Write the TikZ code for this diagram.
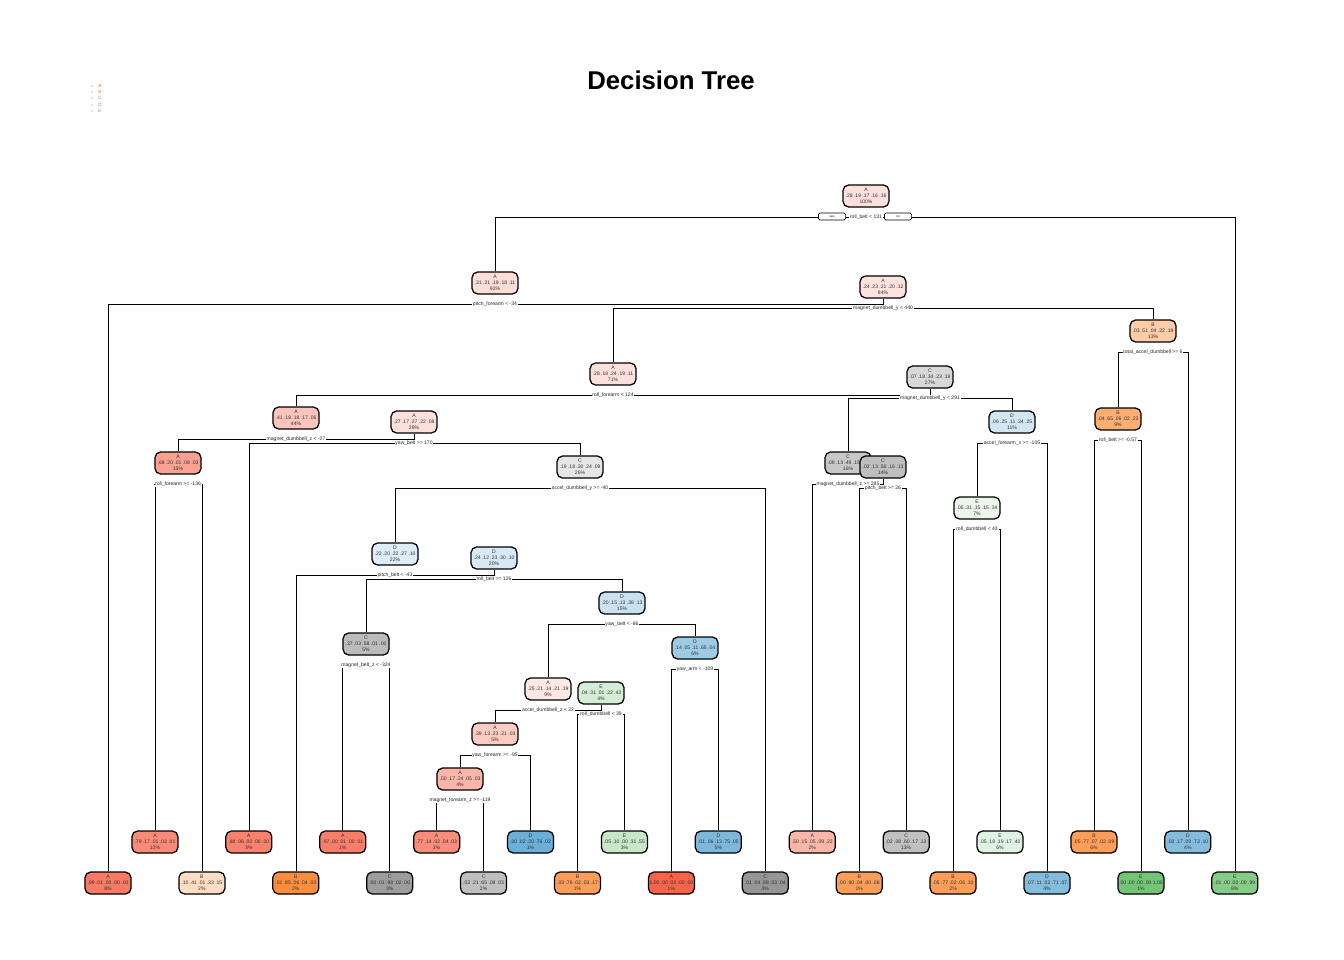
\documentclass[tikz,border=0pt]{standalone}
\usepackage{fontspec}
\setmainfont{Liberation Sans}
\usetikzlibrary{backgrounds}
\definecolor{cA}{HTML}{F6634A}
\definecolor{cB}{HTML}{FD8D3C}
\definecolor{cC}{HTML}{969696}
\definecolor{cD}{HTML}{6BAED6}
\definecolor{cE}{HTML}{74C476}
\begin{document}
\begin{tikzpicture}[
	x=0.025cm, y=-0.025cm,
	font=\fontsize{3.6}{4.3}\selectfont,
	box/.style={draw, line width=0.9pt, rounded corners=4pt, minimum width=1.15cm, minimum height=0.55cm, inner sep=0.5pt, align=center, text=black!80},
	split/.style={fill=white, inner sep=0.4pt, text=black!85},
	tag/.style={draw, line width=0.5pt, rounded corners=1pt, fill=white, minimum width=0.68cm, minimum height=0.17cm, inner sep=0pt, font=\fontsize{2.2}{2.4}\selectfont},
	edge/.style={line width=0.7pt},
	]
\useasboundingbox (0,0) rectangle (1344,960);
\node [font=\fontsize{18.3}{22}\selectfont\bfseries] (title) at (671,80) {Decision Tree};
% legend
\foreach \k/\yy in {A/86,B/92,C/98,D/105,E/111} {
	\fill [c\k!80!black] (92,\yy) circle [radius=0.45pt];
	\node [font=\fontsize{3.3}{3.5}\selectfont, text=c\k!85!black, inner sep=0pt] at (100,\yy) {\k};
}
% inner nodes
\node [box, fill=cA!20] (n1) at (866,196) {A\\.28 .19 .17 .16 .16\\100\%};
\node [box, fill=cA!22] (n2) at (495,283) {A\\.31 .21 .19 .18 .11\\92\%};
\node [box, fill=cA!18] (n5) at (883,287) {A\\.24 .23 .21 .20 .12\\84\%};
\node [box, fill=cA!20] (n10) at (613,374) {A\\.28 .18 .24 .19 .11\\71\%};
\node [box, fill=cB!45] (n11) at (1153,331) {B\\.03 .51 .04 .22 .19\\13\%};
\node [box, fill=cB!72] (n22) at (1118,419) {B\\.04 .65 .06 .02 .23\\9\%};
\node [box, fill=cA!37] (n20) at (296,418) {A\\.41 .18 .18 .17 .06\\44\%};
\node [box, fill=cC!37] (n21) at (930,377) {C\\.07 .18 .34 .23 .18\\27\%};
\node [box, fill=cA!60] (n40) at (178,463) {A\\.68 .20 .01 .08 .03\\15\%};
\node [box, fill=cA!20] (n41) at (414,422) {A\\.27 .17 .27 .22 .08\\29\%};
\node [box, fill=cC!52] (n42) at (848,463) {C\\.09 .13 .49 .15 .14\\16\%};
\node [box, fill=cD!30] (n43) at (1012,422) {D\\.06 .25 .11 .34 .25\\11\%};
\node [box, fill=cC!24] (n83) at (580,467) {C\\.19 .18 .30 .24 .09\\26\%};
\node [box, fill=cC!62] (n85) at (883,467) {C\\.02 .13 .56 .16 .13\\14\%};
\node [box, fill=cE!16] (n86) at (977,508) {E\\.05 .31 .15 .15 .34\\7\%};
\node [box, fill=cD!23] (n166) at (395,554) {D\\.22 .20 .22 .27 .10\\22\%};
\node [box, fill=cD!27] (n333) at (494,558) {D\\.24 .12 .23 .30 .10\\20\%};
\node [box, fill=cC!65] (n666) at (366,644) {C\\.37 .03 .58 .01 .00\\5\%};
\node [box, fill=cD!36] (n667) at (622,603) {D\\.20 .15 .13 .38 .13\\15\%};
\node [box, fill=cA!15] (n1334) at (548,689) {A\\.25 .21 .14 .21 .19\\9\%};
\node [box, fill=cD!66] (n1335) at (695,648) {D\\.14 .05 .11 .65 .04\\6\%};
\node [box, fill=cA!33] (n2668) at (495,734) {A\\.39 .13 .23 .21 .03\\5\%};
\node [box, fill=cE!30] (n2669) at (601,693) {E\\.04 .31 .01 .22 .42\\4\%};
\node [box, fill=cA!47] (n5336) at (460,779) {A\\.50 .17 .24 .05 .03\\4\%};
% leaves, two rows
\foreach \i/\nm/\cls/\prob/\pct/\fillc in {
	0/4/A/.99 .01 .00 .00 .00/8/cA!85,
	1/80/A/.79 .17 .01 .03 .01/12/cA!75,
	2/81/B/.10 .41 .01 .33 .15/2/cB!30,
	3/82/A/.88 .06 .00 .06 .00/3/cA!80,
	4/332/B/.01 .85 .06 .04 .03/2/cB!100,
	5/1332/A/.97 .00 .01 .00 .01/1/cA!83,
	6/1333/C/.00 .01 .98 .02 .00/3/cC!93,
	7/10672/A/.77 .14 .02 .04 .03/3/cA!73,
	8/10673/C/.03 .21 .65 .08 .03/2/cC!60,
	9/5337/D/.00 .02 .20 .76 .02/1/cD!100,
	10/5338/B/.03 .76 .02 .03 .17/1/cB!86,
	11/5339/E/.05 .10 .00 .31 .55/3/cE!40,
	12/2670/A/1.00 .00 .00 .00 .00/1/cA!100,
	13/2671/D/.01 .06 .13 .75 .05/5/cD!88,
	14/167/C/.01 .04 .88 .03 .04/3/cC!100,
	15/84/A/.50 .15 .05 .09 .22/2/cA!47,
	16/170/B/.00 .90 .04 .00 .06/1/cB!86,
	17/171/C/.02 .08 .60 .17 .13/13/cC!60,
	18/172/B/.05 .77 .02 .06 .10/2/cB!86,
	19/173/E/.05 .18 .19 .17 .40/6/cE!22,
	20/87/D/.07 .11 .03 .71 .07/4/cD!83,
	21/44/B/.05 .77 .07 .02 .09/6/cB!86,
	22/45/E/.00 .00 .00 .00 1.00/1/cE!100,
	23/23/D/.00 .17 .00 .73 .10/4/cD!83,
	24/3/E/.01 .00 .00 .00 .99/8/cE!87} {
	\node [box, fill=\fillc] (n\nm) at ({108+46.95*\i}, {883-41*mod(\i,2)}) {\cls\\\prob\\\pct\%};
}
% split labels
\node [split] (s1) at ([yshift=-5.2mm]n1) {roll\_belt < 131};
\node [tag] (yes) at (832,216.5) {yes};
\node [tag] (no) at (898,216.5) {no};
\node [split] (s2) at ([yshift=-5.2mm]n2) {pitch\_forearm < -34};
\node [split] (s5) at ([yshift=-5.2mm]n5) {magnet\_dumbbell\_y < 440};
\node [split] (s10) at ([yshift=-5.2mm]n10) {roll\_forearm < 124};
\node [split] (s11) at ([yshift=-5.2mm]n11) {total\_accel\_dumbbell >= 6};
\node [split] (s20) at ([yshift=-5.2mm]n20) {magnet\_dumbbell\_z < -27};
\node [split] (s21) at ([yshift=-5.2mm]n21) {magnet\_dumbbell\_y < 291};
\node [split] (s22) at ([yshift=-5.2mm]n22) {roll\_belt >= -0.57};
\node [split] (s40) at ([yshift=-5.2mm]n40) {roll\_forearm >= -136};
\node [split] (s41) at ([yshift=-5.2mm]n41) {yaw\_belt >= 170};
\node [split] (s42) at ([yshift=-5.2mm]n42) {magnet\_dumbbell\_z >= 285};
\node [split] (s43) at ([yshift=-5.2mm]n43) {accel\_forearm\_x >= -105};
\node [split] (s83) at ([yshift=-5.2mm]n83) {accel\_dumbbell\_y >= -40};
\node [split] (s85) at ([yshift=-5.2mm]n85) {pitch\_belt >= 26};
\node [split] (s86) at ([yshift=-5.2mm]n86) {roll\_dumbbell < 43};
\node [split] (s166) at ([yshift=-5.2mm]n166) {pitch\_belt < -43};
\node [split] (s333) at ([yshift=-5.2mm]n333) {roll\_belt >= 126};
\node [split] (s666) at ([yshift=-5.2mm]n666) {magnet\_belt\_z < -324};
\node [split] (s667) at ([yshift=-5.2mm]n667) {yaw\_belt < -86};
\node [split] (s1334) at ([yshift=-5.2mm]n1334) {accel\_dumbbell\_z < 22};
\node [split] (s1335) at ([yshift=-5.2mm]n1335) {yaw\_arm < -109};
\node [split] (s2668) at ([yshift=-5.2mm]n2668) {yaw\_forearm >= -95};
\node [split] (s2669) at ([yshift=-5.2mm]n2669) {roll\_dumbbell < 39};
\node [split] (s5336) at ([yshift=-5.2mm]n5336) {magnet\_forearm\_z >= -119};
% branches
\begin{scope}[on background layer, edge]
	\draw (n2) |- (s1) -| (n3);
	\draw (n4) |- (s2) -| (n5);
	\draw (n10) |- (s5) -| (n11);
	\draw (n20) |- (s10) -| (n21);
	\draw (n22) |- (s11) -| (n23);
	\draw (n40) |- (s20) -| (n41);
	\draw (n42) |- (s21) -| (n43);
	\draw (n44) |- (s22) -| (n45);
	\draw (n80) |- (s40) -| (n81);
	\draw (n82) |- (s41) -| (n83);
	\draw (n84) |- (s42) -| (n85);
	\draw (n86) |- (s43) -| (n87);
	\draw (n166) |- (s83) -| (n167);
	\draw (n170) |- (s85) -| (n171);
	\draw (n172) |- (s86) -| (n173);
	\draw (n332) |- (s166) -| (n333);
	\draw (n666) |- (s333) -| (n667);
	\draw (n1332) |- (s666) -| (n1333);
	\draw (n1334) |- (s667) -| (n1335);
	\draw (n2668) |- (s1334) -| (n2669);
	\draw (n2670) |- (s1335) -| (n2671);
	\draw (n5336) |- (s2668) -| (n5337);
	\draw (n5338) |- (s2669) -| (n5339);
	\draw (n10672) |- (s5336) -| (n10673);
\end{scope}
\end{tikzpicture}
\end{document}
